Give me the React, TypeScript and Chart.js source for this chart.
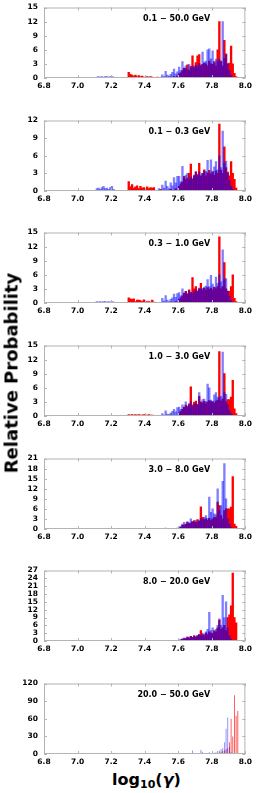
import React, { useEffect, useRef } from 'react';
import { Chart, registerables } from 'chart.js';

Chart.register(...registerables);
Chart.defaults.font.family = "'DejaVu Sans', sans-serif";

// ---- axis / bins ----
const X_MIN = 6.8;
const X_MAX = 8.0;
const X_STEP = 0.2;
const BIN_START = 7.1;
const BIN_WIDTH = 0.01;

const panelLabels = [
  '0.1 − 50.0 GeV',
  '0.1 − 0.3 GeV',
  '0.3 − 1.0 GeV',
  '1.0 − 3.0 GeV',
  '3.0 − 8.0 GeV',
  '8.0 − 20.0 GeV',
  '20.0 − 50.0 GeV',
];
const yMaxes = [15, 12, 15, 15, 21, 27, 120];
const ySteps = [3, 3, 3, 3, 3, 3, 30];

// ---- series: bins 7.10 .. 7.96 (width 0.01) ----
const blue_0p1_50 = [
  0, 0.2, 0.3, 0.2, 0.3, 0.2, 0.3, 0.3, 0.2, 0.3,
  0.3, 0.2, 0, 0, 0, 0, 0, 0, 0, 0,
  0, 0, 0, 0, 0, 0, 0, 0, 0, 0,
  0, 0, 0, 0, 0, 0, 0, 0, 0, 0.2,
  0.7, 0.3, 1.4, 0.6, 0.4, 0.8, 1.2, 1.9, 0.9, 1.3,
  2.3, 1.6, 3.5, 2.0, 2.6, 1.8, 2.9, 2.1, 2.4, 2.6,
  2.7, 2.4, 3.1, 2.8, 5.5, 3.4, 3.6, 6.0, 6.2, 4.1,
  5.8, 3.2, 4.0, 3.6, 3.9, 3.4, 12.0, 4.2, 5.2, 3.0,
  1.5, 0.6, 0.2, 0, 0, 0, 0,
];
const red_0p1_50 = [
  0, 0, 0, 0, 0, 0, 0, 0, 0, 0,
  0, 0, 0, 0, 0, 0, 0, 0, 0, 0,
  1.2, 0.8, 0.6, 0.4, 0.6, 0.3, 0.5, 0.3, 0.4, 0.2,
  0, 0.3, 0.2, 0.3, 0.2, 0, 0, 0.2, 0, 0,
  0, 0, 0, 0, 0, 0.2, 0, 0.3, 0, 0.4,
  0.9, 1.1, 1.6, 2.1, 2.0, 2.8, 1.6, 2.5, 4.7, 2.2,
  3.3, 4.7, 5.0, 2.6, 2.9, 3.1, 3.0, 2.6, 3.6, 3.0,
  2.9, 3.5, 2.6, 6.0, 12.0, 3.6, 2.6, 8.0, 5.0, 3.0,
  3.2, 6.8, 3.0, 1.0, 0.3, 0, 0,
];

const blue_0p1_0p3 = [
  0, 0.4, 0.5, 0.3, 0.6, 0.8, 0.4, 0.5, 0.3, 0.6,
  0.8, 0.3, 0, 0, 0, 0, 0, 0, 0, 0,
  0, 0, 0, 0, 0, 0, 0, 0, 0, 0,
  0, 0, 0, 0, 0, 0, 0, 0, 0.4, 0,
  1.0, 0.5, 1.7, 0.8, 0.4, 1.4, 0.9, 2.3, 1.4, 2.5,
  2.5, 1.6, 4.2, 2.2, 2.7, 3.0, 1.9, 2.4, 2.2, 2.7,
  3.1, 2.6, 3.2, 2.7, 3.0, 3.4, 3.3, 5.2, 3.0, 5.3,
  3.4, 4.1, 5.0, 3.6, 6.0, 4.0, 10.2, 4.8, 5.1, 3.0,
  1.8, 0.8, 0.3, 0, 0, 0, 0,
];
const red_0p1_0p3 = [
  0, 0, 0, 0, 0, 0, 0, 0, 0, 0,
  0, 0, 0, 0, 0, 0, 0, 0, 0, 0,
  1.6, 0.7, 1.1, 0.5, 0.7, 0.9, 0.4, 0.8, 0.5, 0.6,
  0.3, 0.7, 0.4, 0.6, 0.5, 0.6, 0, 0, 0, 0.3,
  0, 0, 0, 0, 0, 0.3, 0, 0, 0.4, 0,
  0.8, 1.2, 1.5, 2.5, 1.9, 2.2, 3.0, 4.6, 2.0, 2.6,
  3.3, 2.8, 4.7, 2.5, 3.0, 3.6, 2.6, 3.1, 3.5, 2.9,
  3.2, 2.7, 3.4, 3.0, 11.4, 3.5, 3.0, 7.5, 4.0, 3.2,
  2.6, 5.0, 3.0, 2.0, 0.5, 0, 0,
];

const blue_0p3_1 = [
  0, 0.3, 0.2, 0.3, 0.2, 0.3, 0.3, 0.2, 0.3, 0.2,
  0.3, 0.2, 0, 0, 0, 0, 0, 0, 0, 0,
  0, 0, 0, 0, 0, 0, 0, 0, 0, 0,
  0, 0, 0, 0, 0, 0, 0, 0, 0, 0,
  1.0, 0.4, 1.6, 0.6, 0.3, 0.8, 1.1, 1.9, 1.2, 2.0,
  2.2, 1.5, 3.0, 2.0, 2.4, 1.8, 2.6, 2.2, 2.0, 2.5,
  2.8, 2.4, 3.2, 2.9, 3.1, 3.4, 3.6, 5.0, 3.5, 5.9,
  4.0, 3.3, 5.5, 4.2, 6.0, 4.5, 11.3, 5.0, 5.2, 2.6,
  1.4, 0.6, 0.2, 0, 0, 0, 0,
];
const red_0p3_1 = [
  0, 0, 0, 0, 0, 0, 0, 0, 0, 0,
  0, 0, 0, 0, 0, 0, 0, 0, 0, 0,
  1.1, 0.9, 0.8, 0.9, 0.3, 0.6, 0.6, 0.5, 0.3, 0.7,
  0.2, 0.3, 0.3, 0.2, 0.6, 0.2, 0, 0, 0, 0,
  0, 0, 0, 0, 0, 0.2, 0, 0, 0.3, 0,
  0.8, 1.1, 1.5, 2.1, 2.5, 2.0, 2.8, 2.2, 5.4, 3.0,
  3.5, 2.6, 3.0, 4.2, 2.8, 3.1, 2.7, 3.3, 2.9, 3.2,
  2.8, 3.4, 3.0, 3.5, 14.1, 3.0, 3.5, 8.6, 3.0, 2.5,
  2.5, 3.5, 6.0, 1.0, 0.3, 0, 0,
];

const blue_1_3 = [
  0, 0, 0, 0, 0, 0, 0, 0, 0, 0,
  0, 0, 0, 0, 0, 0, 0, 0, 0, 0,
  0, 0, 0, 0, 0, 0, 0, 0, 0, 0,
  0, 0, 0, 0, 0, 0, 0, 0, 0, 0,
  0.5, 0.2, 1.1, 0.4, 0.3, 0.6, 1.0, 1.4, 0.9, 1.8,
  1.9, 1.4, 2.4, 1.8, 3.0, 2.1, 2.3, 3.0, 2.0, 2.5,
  2.7, 2.3, 5.0, 2.8, 3.5, 3.6, 3.0, 6.8, 6.0, 3.4,
  3.2, 4.5, 5.0, 4.0, 3.8, 4.2, 13.6, 5.0, 4.6, 2.4,
  1.2, 0.5, 0.2, 0, 0, 0, 0,
];
const red_1_3 = [
  0, 0, 0, 0, 0, 0, 0, 0, 0, 0,
  0, 0, 0, 0, 0, 0, 0, 0, 0, 0,
  0.3, 0.2, 0.3, 0.2, 0.3, 0.2, 0.3, 0.2, 0.2, 0.3,
  0.2, 0.2, 0.3, 0.2, 0.2, 0, 0, 0, 0, 0,
  0, 0, 0, 0, 0, 0.2, 0, 0, 0, 0,
  0.7, 1.0, 1.4, 1.9, 2.3, 2.0, 2.6, 6.2, 2.4, 2.9,
  3.2, 2.5, 4.2, 3.0, 2.8, 3.1, 2.6, 3.0, 3.3, 3.0,
  3.0, 2.7, 3.2, 3.4, 13.7, 3.2, 3.6, 9.0, 3.0, 3.5,
  3.5, 4.0, 7.6, 1.5, 0.5, 0, 0,
];

const blue_3_8 = [
  0, 0, 0, 0, 0, 0, 0, 0, 0, 0,
  0, 0, 0, 0, 0, 0, 0, 0, 0, 0,
  0, 0, 0, 0, 0, 0, 0, 0, 0, 0,
  0, 0, 0, 0, 0, 0, 0, 0, 0, 0,
  0, 0, 0.3, 0, 0, 0, 0, 0, 0, 0.3,
  0.6, 0.9, 1.5, 2.0, 1.4, 2.2, 1.8, 3.0, 2.2, 2.0,
  2.5, 2.0, 2.6, 3.2, 2.8, 3.5, 4.0, 3.2, 9.5, 5.0,
  6.0, 4.5, 4.2, 12.0, 5.5, 7.0, 14.2, 19.5, 9.0, 3.0,
  1.5, 0.5, 0.2, 0, 0, 0, 0,
];
const red_3_8 = [
  0, 0, 0, 0, 0, 0, 0, 0, 0, 0,
  0, 0, 0, 0, 0, 0, 0, 0, 0, 0,
  0, 0, 0, 0, 0, 0, 0, 0, 0, 0,
  0, 0, 0, 0, 0, 0, 0, 0, 0, 0,
  0, 0, 0, 0, 0, 0, 0, 0, 0, 0,
  0.3, 0.5, 1.2, 1.0, 1.5, 2.0, 1.6, 1.8, 2.2, 2.5,
  2.0, 2.8, 2.3, 6.6, 3.5, 2.8, 3.0, 2.6, 3.2, 2.5,
  3.0, 3.5, 3.3, 8.0, 7.0, 4.0, 3.0, 5.5, 6.0, 6.0,
  6.0, 6.5, 15.6, 1.5, 0.8, 0, 0,
];

const blue_8_20 = [
  0, 0, 0, 0, 0, 0, 0, 0, 0, 0,
  0, 0, 0, 0, 0, 0, 0, 0, 0, 0,
  0, 0, 0, 0, 0, 0, 0, 0, 0, 0,
  0, 0, 0, 0, 0, 0, 0, 0, 0, 0,
  0, 0, 0, 0, 0, 0, 0, 0, 0, 0,
  0.4, 0.6, 0.9, 1.2, 0.8, 1.5, 1.0, 1.8, 1.3, 2.0,
  1.6, 2.2, 2.5, 2.0, 3.0, 2.6, 3.5, 4.5, 11.0, 4.0,
  5.0, 3.5, 4.5, 6.0, 8.5, 6.0, 17.5, 9.0, 15.0, 5.0,
  2.0, 0.8, 0.3, 0, 0, 0, 0,
];
const red_8_20 = [
  0, 0, 0, 0, 0, 0, 0, 0, 0, 0,
  0, 0, 0, 0, 0, 0, 0, 0, 0, 0,
  0, 0, 0, 0, 0, 0, 0, 0, 0, 0,
  0, 0, 0, 0, 0, 0, 0, 0, 0, 0,
  0, 0, 0, 0, 0, 0, 0, 0, 0, 0,
  0.2, 0.4, 0.6, 0.8, 1.0, 1.5, 1.2, 1.8, 1.4, 2.0,
  1.5, 2.0, 2.5, 4.0, 2.5, 2.0, 3.0, 2.5, 3.5, 3.0,
  2.8, 4.0, 3.5, 5.0, 8.0, 4.5, 5.0, 6.0, 4.0, 9.0,
  10.0, 13.5, 26.0, 9.0, 7.0, 0, 0,
];

const blue_20_50 = [
  0, 0, 0, 0, 0, 0, 0, 0, 0, 0,
  0, 0, 0, 0, 0, 0, 0, 0, 0, 0,
  0, 0, 0, 0, 0, 0, 0, 0, 0, 0,
  0, 0, 0, 0, 0, 0, 0, 0, 0, 0,
  0, 0, 0, 0, 0, 0, 0, 0, 0, 0,
  0, 0, 0, 0, 0, 0, 0, 0, 6.0, 0,
  0, 0, 0, 7.0, 4.0, 0, 0, 0, 3.0, 0,
  4.0, 2.0, 3.0, 5.0, 6.0, 8.0, 10.0, 20.0, 43.0, 62.0,
  12.0, 3.0, 0, 0, 0, 0, 0,
];
const red_20_50 = [
  0, 0, 0, 0, 0, 0, 0, 0, 0, 0,
  0, 0, 0, 0, 0, 0, 0, 0, 0, 0,
  0, 0, 0, 0, 0, 0, 0, 0, 0, 0,
  0, 0, 0, 0, 0, 0, 0, 0, 0, 0,
  0, 0, 0, 0, 0, 0, 0, 0, 0, 0,
  0, 0, 0, 0, 0, 0, 0, 0, 0, 0,
  0, 0, 0, 0, 0, 0, 0, 0, 0, 0,
  0, 0, 0, 1.0, 2.0, 3.0, 5.0, 6.0, 8.0, 10.0,
  20.0, 60.0, 30.0, 100.0, 65.0, 73.0, 0,
];

const redSeries = [red_0p1_50, red_0p1_0p3, red_0p3_1, red_1_3, red_3_8, red_8_20, red_20_50];
const blueSeries = [blue_0p1_50, blue_0p1_0p3, blue_0p3_1, blue_1_3, blue_3_8, blue_8_20, blue_20_50];

// ---- layout ----
const PANEL_TOPS = [3, 116, 228, 341, 454, 566, 679];
const PLOT_H = 75;
const PAD_TOP = 6;
const X_AXIS_H = 14;
const PAD_BOTTOM = 2;
const CANVAS_H = PAD_TOP + PLOT_H + X_AXIS_H + PAD_BOTTOM;
const FONT = "'DejaVu Sans', sans-serif";

const framePlugin = {
  id: 'frame',
  afterDraw(chart: any, _args: any, opts: any) {
    const { ctx, chartArea } = chart;
    const { left, right, top, bottom } = chartArea;
    const xs = chart.scales.x;
    const ys = chart.scales.y;
    ctx.save();
    ctx.strokeStyle = '#b4b4b4';
    ctx.lineWidth = 1;
    ctx.strokeRect(left + 0.5, top + 0.5, right - left - 1, bottom - top - 1);
    ctx.beginPath();
    xs.ticks.forEach((t: any) => {
      const px = Math.round(xs.getPixelForValue(t.value)) + 0.5;
      ctx.moveTo(px, bottom);
      ctx.lineTo(px, bottom - 3);
      ctx.moveTo(px, top);
      ctx.lineTo(px, top + 3);
    });
    ys.ticks.forEach((t: any) => {
      const py = Math.round(ys.getPixelForValue(t.value)) + 0.5;
      ctx.moveTo(left, py);
      ctx.lineTo(left + 3, py);
      ctx.moveTo(right, py);
      ctx.lineTo(right - 3, py);
    });
    ctx.stroke();
    ctx.fillStyle = '#000';
    ctx.font = `bold 8px ${FONT}`;
    ctx.textAlign = 'right';
    ctx.textBaseline = 'middle';
    ctx.fillText(opts.text, left + 0.825 * (right - left), top + 11);
    ctx.restore();
  },
};

function Panel({ index }: { index: number }) {
  const ref = useRef<HTMLCanvasElement>(null);
  useEffect(() => {
    if (!ref.current) return;
    const toPoints = (vals: number[]) =>
      vals.map((v, i) => ({ x: BIN_START + (i + 0.5) * BIN_WIDTH, y: v }));
    const thin = index === 6;
    const tickFont = { family: FONT, weight: 'bold' as const, size: 7.5 };
    const chart = new Chart(ref.current, {
      type: 'bar',
      data: {
        datasets: [
          {
            label: 'blue',
            data: toPoints(blueSeries[index]),
            backgroundColor: 'rgba(0,0,255,0.5)',
            borderWidth: 0,
            grouped: false,
            order: 0,
            barPercentage: thin ? 0.5 : 1,
            categoryPercentage: 1,
          } as any,
          {
            label: 'red',
            data: toPoints(redSeries[index]),
            backgroundColor: thin ? 'rgba(255,0,0,0.75)' : '#ff0000',
            borderWidth: 0,
            grouped: false,
            order: 1,
            barPercentage: thin ? 0.5 : 1,
            categoryPercentage: 1,
          } as any,
        ],
      },
      options: {
        responsive: false,
        animation: false,
        events: [],
        layout: { padding: { left: 0, right: 7, top: PAD_TOP, bottom: PAD_BOTTOM } },
        plugins: {
          legend: { display: false },
          tooltip: { enabled: false },
          frame: { text: panelLabels[index] },
        } as any,
        scales: {
          x: {
            type: 'linear',
            min: X_MIN,
            max: X_MAX,
            offset: false,
            grid: { display: false, drawTicks: false, offset: false },
            border: { display: false },
            ticks: {
              stepSize: X_STEP,
              autoSkip: false,
              maxRotation: 0,
              padding: 4,
              color: '#000',
              font: tickFont,
              callback: (v: any) => Number(v).toFixed(1),
            },
            afterFit: (s: any) => {
              s.height = X_AXIS_H;
            },
          },
          y: {
            min: 0,
            max: yMaxes[index],
            grid: { display: false, drawTicks: false },
            border: { display: false },
            ticks: {
              stepSize: ySteps[index],
              autoSkip: false,
              padding: 6,
              color: '#000',
              font: tickFont,
            },
            afterFit: (s: any) => {
              s.width = 44;
            },
          },
        },
      } as any,
      plugins: [framePlugin],
    });
    return () => chart.destroy();
  }, [index]);
  return (
    <canvas
      ref={ref}
      width={256}
      height={CANVAS_H}
      style={{
        position: 'absolute',
        left: 0,
        top: PANEL_TOPS[index] - PAD_TOP,
        width: 256,
        height: CANVAS_H,
      }}
    />
  );
}

export default function App() {
  return (
    <div
      style={{
        position: 'absolute',
        left: 0,
        top: 0,
        width: 256,
        height: 793,
        background: '#fff',
        overflow: 'hidden',
      }}
    >
      {panelLabels.map((_, i) => (
        <Panel key={i} index={i} />
      ))}
      <div
        style={{
          position: 'absolute',
          left: 11,
          top: 373,
          transform: 'translate(-50%, -50%) rotate(-90deg)',
          whiteSpace: 'nowrap',
          font: `bold 18px ${FONT}`,
          color: '#000',
        }}
      >
        Relative Probability
      </div>
      <div
        style={{
          position: 'absolute',
          left: 44,
          width: 205,
          top: 771,
          textAlign: 'center',
          font: `bold 16px ${FONT}`,
          lineHeight: '18px',
          color: '#000',
          whiteSpace: 'nowrap',
        }}
      >
        log
        <sub style={{ fontSize: '11px', verticalAlign: '-3px', lineHeight: 0 }}>10</sub>
        (<i>γ</i>)
      </div>
    </div>
  );
}
